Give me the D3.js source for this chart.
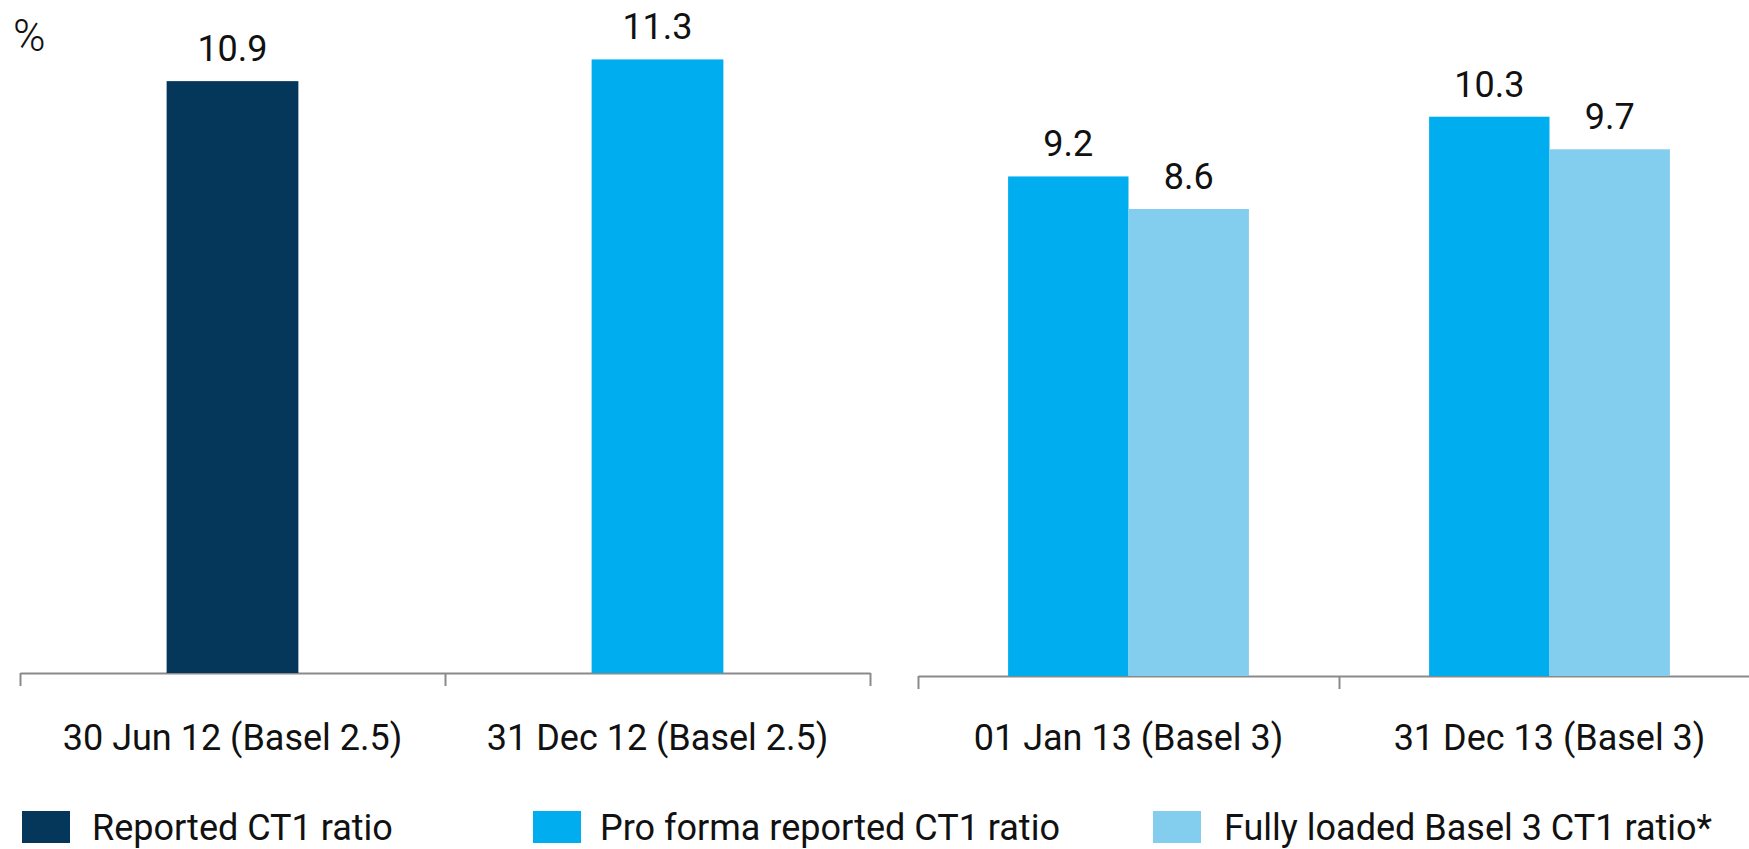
<!DOCTYPE html>
<html>
<head>
<meta charset="utf-8">
<script src="https://cdn.jsdelivr.net/npm/d3@7"></script>
<style>
  html, body { margin: 0; padding: 0; background: #ffffff; }
  svg { display: block; }
  text { font-family: "Roboto", "Liberation Sans", sans-serif; fill: #111; }
</style>
</head>
<body>
<svg id="chart" width="1749" height="849"></svg>
<script>
// Capital ratios by reporting date
const categories = ["30 Jun 12 (Basel 2.5)", "31 Dec 12 (Basel 2.5)", "01 Jan 13 (Basel 3)", "31 Dec 13 (Basel 3)"];
const seriesNames = ["Reported CT1 ratio", "Pro forma reported CT1 ratio", "Fully loaded Basel 3 CT1 ratio*"];
const seriesColors = ["#04375a", "#00aeef", "#83cdee"];
const reported    = [10.9, null, null, null];
const proForma    = [null, 11.3, 9.2, 10.3];
const fullyLoaded = [null, null, 8.6, 9.7];
const unitLabel = "%";

const svg = d3.select("#chart");
const values = [reported, proForma, fullyLoaded];

// Shared vertical scale, each panel sitting on its own baseline
const pxPerUnit = 54.3;
const yMax = 12;
const yLeft  = d3.scaleLinear().domain([0, yMax]).range([673, 673 - yMax * pxPerUnit]);
const yRight = d3.scaleLinear().domain([0, yMax]).range([676, 676 - yMax * pxPerUnit]);

const fontSize = 36;

function drawPanel(cats, x0, x1, y, barFrac) {
  const band = d3.scaleBand().domain(cats.map(d => d.cat)).range([x0, x1]).padding(0);
  const g = svg.append("g");

  // axis line with ticks at the band boundaries
  const edge = d3.scaleLinear().domain([0, cats.length]).range([x0, x1]);
  const axis = g.append("g")
    .attr("transform", `translate(0,${y(0)})`)
    .call(d3.axisBottom(edge).tickValues(d3.range(cats.length + 1)).tickSize(13).tickSizeOuter(0).tickFormat(""));
  axis.selectAll("path, line").attr("stroke", "#8a8a8a").attr("stroke-width", 2);

  cats.forEach(c => {
    const bars = c.bars;
    const groupW = band.bandwidth() * barFrac * bars.length;
    const sub = d3.scaleBand().domain(bars.map(b => b.s)).range([0, groupW]).padding(0);
    const gx = band(c.cat) + (band.bandwidth() - groupW) / 2;
    bars.forEach(b => {
      g.append("rect")
        .attr("x", gx + sub(b.s))
        .attr("y", y(b.v))
        .attr("width", sub.bandwidth())
        .attr("height", y(0) - y(b.v))
        .attr("fill", seriesColors[b.s]);
      g.append("text")
        .attr("x", gx + sub(b.s) + sub.bandwidth() / 2)
        .attr("y", y(b.v) - 20)
        .attr("text-anchor", "middle")
        .attr("font-size", fontSize)
        .text(b.v.toFixed(1));
    });
  });

  // category labels
  cats.forEach(c => {
    g.append("text")
      .attr("x", band(c.cat) + band.bandwidth() / 2)
      .attr("y", 750)
      .attr("text-anchor", "middle")
      .attr("font-size", fontSize)
      .text(c.cat);
  });
}

function catData(idxs) {
  return idxs.map(i => ({
    cat: categories[i],
    bars: values.map((arr, s) => ({ s, v: arr[i] })).filter(b => b.v != null)
  }));
}

drawPanel(catData([0, 1]), 20, 870, yLeft, 0.31);
drawPanel(catData([2, 3]), 918, 1760, yRight, 0.286);

// unit label
svg.append("text").attr("x", 13).attr("y", 51).attr("font-size", 44).attr("font-weight", 300).text(unitLabel);

// legend
const swatchX = [22, 533, 1153];
const labelX = [92, 600, 1224];
const legend = svg.append("g");
seriesNames.forEach((name, i) => {
  legend.append("rect")
    .attr("x", swatchX[i]).attr("y", 811)
    .attr("width", 48).attr("height", 32)
    .attr("fill", seriesColors[i]);
  legend.append("text")
    .attr("x", labelX[i]).attr("y", 840)
    .attr("font-size", fontSize)
    .text(name);
});
</script>
</body>
</html>
